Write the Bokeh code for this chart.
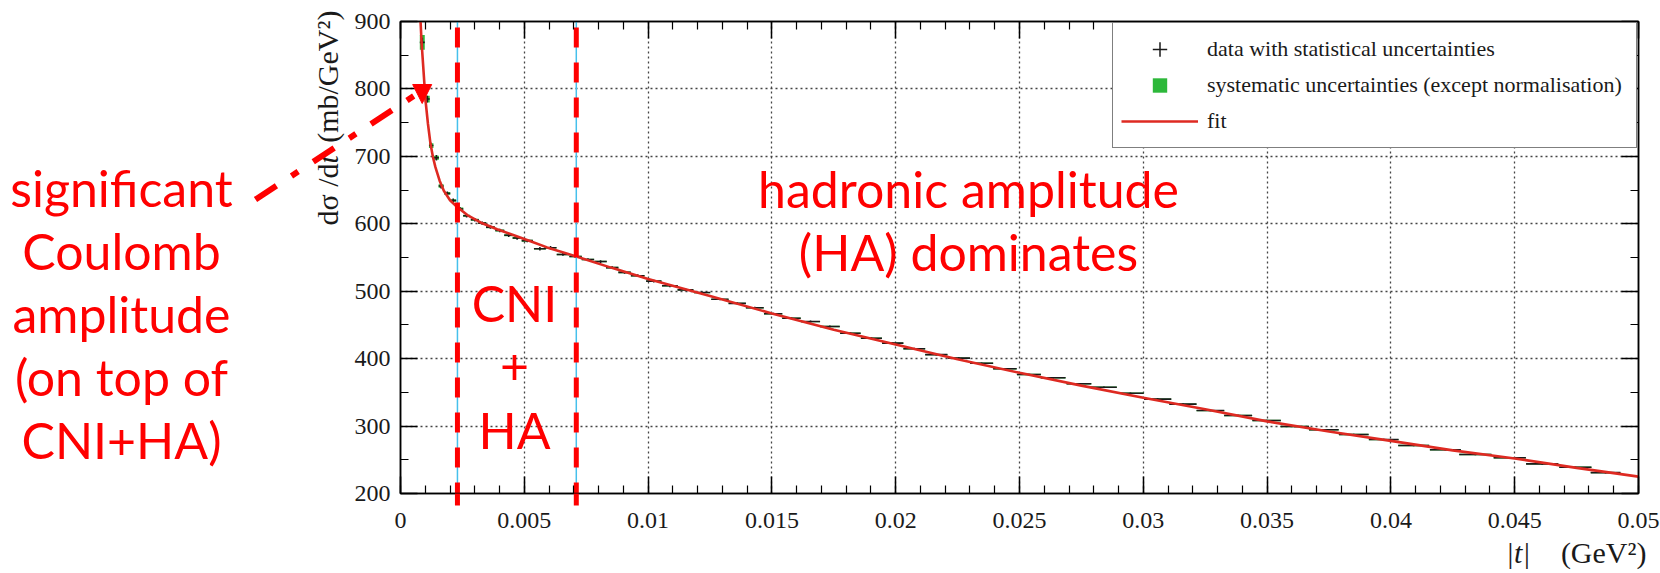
import math
from bokeh.plotting import figure
from bokeh.layouts import GridBox, column
from bokeh.models import (Range1d, LinearAxis, FixedTicker, NumeralTickFormatter,
                          CustomJSTickFormatter, Label, Arrow, NormalHead, Legend,
                          LegendItem, Grid)
from bokeh.embed import file_html
from bokeh.resources import INLINE

# ---------------- data ----------------
t_data = [0.00088, 0.00108, 0.00124, 0.00145, 0.00164, 0.00189, 0.00213, 0.00240,
          0.00267, 0.00300, 0.00330, 0.00363, 0.00401, 0.00437, 0.00471, 0.00512,
          0.00563, 0.00606, 0.00656, 0.00707, 0.00757, 0.00808, 0.00855, 0.00905,
          0.00958, 0.01023, 0.01088, 0.01151, 0.01218, 0.01290, 0.01360, 0.01431,
          0.01505, 0.01579, 0.01656, 0.01734, 0.01817, 0.01902, 0.01988, 0.02075,
          0.02164, 0.02255, 0.02347, 0.02441, 0.02538, 0.02636, 0.02740, 0.02841,
          0.02948, 0.03058, 0.03160, 0.03271, 0.03383, 0.03498, 0.03612, 0.03729,
          0.03850, 0.03971, 0.04092, 0.04220, 0.04341, 0.04480, 0.04611, 0.04745,
          0.04867]
dsdt_data = [869, 785, 716, 698, 656, 645, 634.5, 622,
             612, 606, 601, 595, 590, 583, 579, 575,
             563, 564.5, 554.5, 551.5, 547, 544, 535, 528,
             523, 515, 508, 502, 498, 488, 482, 475.4,
             466.5, 460, 455, 447.7, 437.7, 430.3, 423, 414.6,
             406, 400.7, 393.2, 385, 376.5, 371.6, 362.7, 357.6,
             348.7, 340, 332.5, 323, 315.7, 308.3, 299.4, 294.5,
             287.5, 280, 271.2, 264.8, 257.8, 253, 244, 239,
             231]
stat_err = [7, 5, 4, 4, 3.5, 3, 3, 3,
            2.5, 2.5, 2.5, 2.5, 2.5, 2.5, 2.5, 2.5,
            2.5, 2.5, 2, 2, 2, 2, 2, 2,
            2, 2, 2, 2, 1.5, 1.5, 1.5, 1.5,
            1.5, 1.5, 1.5, 1.5, 1.5, 1.5, 1.5, 1.5,
            1.2, 1.2, 1.2, 1.2, 1.2, 1.2, 1.2, 1.2,
            1.2, 1.2, 1.2, 1.2, 1.2, 1.2, 1.2, 1.2,
            1.2, 1.2, 1.2, 1.2, 1.2, 1.2, 1.2, 1.2,
            1.2]
syst_err = [11, 5, 3.5, 3, 2.5, 2, 2, 2,
            1.5, 1.5, 1.5, 1.5, 1.5, 1.5, 1.5, 1.5,
            1.2, 1.2, 1.2, 1.2, 1.2, 1.2, 1.2, 1.2,
            1, 1, 1, 1, 1, 1, 1, 1,
            1, 1, 1, 1, 1, 1, 1, 1,
            1, 1, 1, 1, 1, 1, 1, 1,
            1, 1, 1, 1, 1, 1, 1, 1,
            1, 1, 1, 1, 1, 1, 1, 1,
            1]
bin_width = [0.0002, 0.0002, 0.00018, 0.0002, 0.0002, 0.00024, 0.00024, 0.00027,
             0.00028, 0.00032, 0.00032, 0.00035, 0.00036, 0.00036, 0.00036, 0.00045,
             0.00048, 0.00048, 0.0005, 0.0005, 0.0005, 0.0005, 0.0005, 0.0005,
             0.00055, 0.00062, 0.00064, 0.00064, 0.00066, 0.0007, 0.0007, 0.00072,
             0.00074, 0.00075, 0.00077, 0.0008, 0.00083, 0.00085, 0.00086, 0.00088,
             0.0009, 0.0009, 0.00093, 0.00095, 0.00097, 0.001, 0.001, 0.00104,
             0.00107, 0.0011, 0.0011, 0.00112, 0.00113, 0.00115, 0.00115, 0.0012,
             0.0012, 0.0012, 0.00125, 0.00125, 0.0013, 0.0013, 0.0013, 0.0013,
             0.0012]

fit_t = [0.00081, 0.00085, 0.00092, 0.00101, 0.00111, 0.00121, 0.00131, 0.00141,
         0.00158, 0.00175, 0.00200, 0.00229, 0.00270, 0.00323, 0.00390, 0.00458,
         0.00525, 0.00592, 0.00707, 0.0085, 0.0100, 0.0125, 0.0150, 0.0175,
         0.0200, 0.0225, 0.0250, 0.0275, 0.0300, 0.0325, 0.0350, 0.0375,
         0.0400, 0.0425, 0.0450, 0.0475, 0.0500]
fit_v = [900, 870, 832, 783, 748, 719, 699, 684,
         664, 649, 635, 625, 613, 602, 592, 583,
         574, 565, 552, 535, 518, 493, 467, 443,
         421, 399, 379, 360, 342, 325, 307, 292,
         278, 264, 252, 238, 225]

x_ticks = [0, 0.005, 0.01, 0.015, 0.02, 0.025, 0.03, 0.035, 0.04, 0.045, 0.05]
x_minor_ticks = [round(0.001 * i, 3) for i in range(0, 51)]
y_ticks = [200, 300, 400, 500, 600, 700, 800, 900]
y_minor_ticks = [200, 250, 300, 350, 400, 450, 500, 550, 600, 650, 700, 750, 800, 850, 900]

region_bounds = [0.0023, 0.0071]   # |t| where the red dashed separators sit
legend_labels = ["data with statistical uncertainties",
                 "systematic uncertainties (except normalisation)",
                 "fit"]
left_note = ["significant", "Coulomb", "amplitude", "(on top of", "CNI+HA)"]
mid_note = ["CNI", "+", "HA"]
right_note = ["hadronic amplitude", "(HA) dominates"]

# ---------------- layout constants ----------------
W, H = 1660, 573
FL, FR, FT, FB = 400, 1638, 21, 493          # frame edges in canvas pixels
T_MAX = 0.05

def fx(cx):   # canvas x -> frame-relative screen x
    return cx - FL

def fy(cy):   # canvas y (from top) -> frame-relative screen y (up positive)
    return FB - cy

def canvas_x(t):
    return FL + t / T_MAX * (FR - FL)

BL = -21   # Label 'alphabetic' baseline correction (px)

SERIF = "Liberation Serif"
SANS = "Lato"
RED = "#ff0000"
GREEN = "#2db83a"
FITRED = "#de2a22"
INK = "#1a1a1a"

p = figure(width=W, height=H, x_range=Range1d(0, T_MAX), y_range=Range1d(200, 900),
           x_axis_type=None, y_axis_type=None, output_backend="svg",
           toolbar_location=None, min_border_left=FL, min_border_right=W - FR,
           min_border_top=FT, min_border_bottom=H - FB)
p.background_fill_color = "white"
p.border_fill_color = "white"
p.outline_line_color = "black"
p.outline_line_width = 1.5

xt = FixedTicker(ticks=x_ticks, minor_ticks=x_minor_ticks)
yt = FixedTicker(ticks=y_ticks, minor_ticks=y_minor_ticks)

def style_axis(ax, labels):
    ax.axis_line_color = "black"
    ax.axis_line_width = 1.5
    ax.major_tick_in = 17
    ax.major_tick_out = 0
    ax.minor_tick_in = 8
    ax.minor_tick_out = 0
    ax.major_tick_line_color = "black"
    ax.major_tick_line_width = 1.5
    ax.minor_tick_line_color = "black"
    ax.minor_tick_line_width = 1.2
    if labels:
        ax.major_label_text_font = SERIF
        ax.major_label_text_font_size = "24px"
        ax.major_label_text_color = INK
    else:
        ax.formatter = CustomJSTickFormatter(code="return ''")
        ax.major_label_text_font_size = "1px"
        ax.major_label_standoff = 0

xb = LinearAxis(ticker=xt, formatter=NumeralTickFormatter(format="0.[000]"))
style_axis(xb, True)
xb.major_label_standoff = 19
yl = LinearAxis(ticker=yt)
style_axis(yl, True)
yl.major_label_standoff = 10
xa = LinearAxis(ticker=xt)
style_axis(xa, False)
yr = LinearAxis(ticker=yt)
style_axis(yr, False)
p.add_layout(xb, "below")
p.add_layout(yl, "left")
p.add_layout(xa, "above")
p.add_layout(yr, "right")

for dim, tk in ((0, xt), (1, yt)):
    p.add_layout(Grid(dimension=dim, ticker=tk, grid_line_color="#444444",
                      grid_line_width=1.3, grid_line_dash="2 3"))

# ---------------- data glyphs ----------------
left = [t - w / 2 for t, w in zip(t_data, bin_width)]
right = [t + w / 2 for t, w in zip(t_data, bin_width)]
p.quad(left=left, right=right,
       bottom=[v - s for v, s in zip(dsdt_data, syst_err)],
       top=[v + s for v, s in zip(dsdt_data, syst_err)],
       fill_color=GREEN, line_color=None)
p.segment(x0=left, y0=dsdt_data, x1=right, y1=dsdt_data, line_color=INK, line_width=1.6)
p.segment(x0=t_data, y0=[v - e for v, e in zip(dsdt_data, stat_err)],
          x1=t_data, y1=[v + e for v, e in zip(dsdt_data, stat_err)],
          line_color=INK, line_width=1.6)
r_cross = p.scatter(x=t_data, y=dsdt_data, marker="cross", size=0,
                    line_color=INK, line_width=1.5)
r_square = p.scatter(x=t_data, y=dsdt_data, marker="square", size=0,
                     fill_color=GREEN, line_color=None)
r_fit = p.line(fit_t, fit_v, line_color=FITRED, line_width=2.6)

# region separators
p.segment(x0=region_bounds, y0=[200] * 2, x1=region_bounds, y1=[900] * 2,
          line_color="#45c0ec", line_width=1.5)
p.segment(x0=region_bounds, y0=[891] * 2, x1=region_bounds, y1=[200] * 2,
          line_color=RED, line_width=5, line_dash="20 15")

# ---------------- legend ----------------
legend = Legend(items=[LegendItem(label=legend_labels[0], renderers=[r_cross]),
                       LegendItem(label=legend_labels[1], renderers=[r_square]),
                       LegendItem(label=legend_labels[2], renderers=[r_fit])],
                location="top_right")
legend.margin = 1
legend.padding = 8
legend.spacing = 0
legend.glyph_width = 77
legend.glyph_height = 36
legend.label_width = 421
legend.label_standoff = 9
legend.label_text_font = SERIF
legend.label_text_font_size = "22px"
legend.label_text_color = INK
legend.border_line_color = "black"
legend.border_line_width = 1.5
legend.background_fill_color = "white"
legend.background_fill_alpha = 1.0
p.add_layout(legend)

# in-frame red notes
def flab(text, cx, cy):
    p.add_layout(Label(x=fx(cx), y=fy(cy + BL), x_units="screen", y_units="screen",
                       text=text, text_font=SANS, text_font_size="50px",
                       text_color=RED, text_align="center", text_baseline="alphabetic"))

for i, s in enumerate(mid_note):
    flab(s, 514, 323 + 63.5 * i)
for i, s in enumerate(right_note):
    flab(s, 968, 209 + 63 * i)

# ---------------- overlay (whole canvas, canvas pixel coordinates) ----------------
ov = figure(width=W, height=H, x_range=Range1d(0, W), y_range=Range1d(H, 0),
            x_axis_type=None, y_axis_type=None, output_backend="svg",
            toolbar_location=None, min_border=0)
ov.outline_line_color = None
ov.background_fill_alpha = 0
ov.border_fill_alpha = 0

def olab(text, cx, cy, size, font=SERIF, color=INK, align="left", baseline="middle",
         angle=0.0, style="normal"):
    ov.add_layout(Label(x=cx, y=cy, text=text, text_font=font, text_font_size=size,
                        text_color=color, text_align=align, text_baseline=baseline,
                        angle=angle, text_font_style=style))

# axis titles (ROOT style, at the axis ends)
olab("dσ /d", 327, 225, "30px", angle=math.pi / 2)
olab("t", 327, 163, "30px", angle=math.pi / 2, style="italic")
olab("(mb/GeV²)", 327, 10, "30px", angle=math.pi / 2, align="right")
olab("|t|", 1530, 552, "30px", align="right", style="italic")
olab("(GeV²)", 1646, 552, "30px", align="right")

# left annotation
for i, s in enumerate(left_note):
    olab(s, 121, 208 + 63 * i + BL, "50px", font=SANS, color=RED, align="center",
         baseline="alphabetic")

# red dashed separators continue slightly below the axis
ov.segment(x0=[canvas_x(b) for b in region_bounds], y0=[FB] * 2,
           x1=[canvas_x(b) for b in region_bounds], y1=[FB + 12] * 2,
           line_color=RED, line_width=5)

ov.add_layout(Arrow(x_start=255, y_start=199, x_end=414, y_end=95, end=None,
                    line_color=RED, line_width=6, line_dash="25 18 8 18"))
ov.add_layout(Arrow(x_start=421.7, y_start=84, x_end=421.7, y_end=103,
                    end=NormalHead(size=19, fill_color=RED, line_color=RED),
                    line_alpha=0, line_width=1))

layout = GridBox(children=[(p, 0, 0), (column(ov), 0, 0)])
open("out.html", "w").write(file_html(layout, INLINE))
